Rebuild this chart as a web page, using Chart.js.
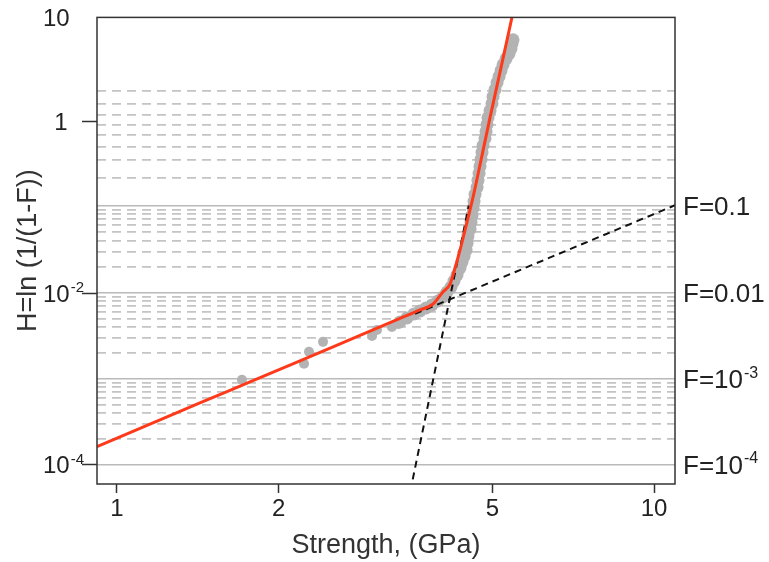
<!DOCTYPE html>
<html>
<head>
<meta charset="utf-8">
<script src="https://cdn.jsdelivr.net/npm/chart.js@4.4.1/dist/chart.umd.min.js"></script>
<style>
  html, body { margin: 0; padding: 0; background: #fff; }
  #wrap { width: 769px; height: 562px; }
</style>
</head>
<body>
<div id="wrap"><canvas id="chartWeibull" width="769" height="562"></canvas></div>
<script>
// ==================== DATA ====================
// axis ranges (strength in GPa, H = ln(1/(1-F)))
const X_MIN = 0.918, X_MAX = 10.94;
const Y_MIN = 5.92e-5, Y_MAX = 16.4;

const X_TICKS = [1, 2, 5, 10];
const Y_TICKS = [1e-4, 1e-2, 1, Y_MAX];
const Y_TICK_BASE = ['10', '10', '1', '10'];
const Y_TICK_EXP = ['-4', '-2', '', ''];

// failure probability levels drawn as horizontal lines
const F_MAJOR = [1e-4, 1e-3, 1e-2, 0.1];
const F_MAJOR_BASE = ['F=10', 'F=10', 'F=0.01', 'F=0.1'];
const F_MAJOR_EXP = ['-4', '-3', '', ''];
const F_MINOR = [
  2e-4, 3e-4, 4e-4, 5e-4, 6e-4, 7e-4, 8e-4, 9e-4,
  2e-3, 3e-3, 4e-3, 5e-3, 6e-3, 7e-3, 8e-3, 9e-3,
  0.02, 0.03, 0.04, 0.05, 0.06, 0.07, 0.08, 0.09,
  0.2, 0.3, 0.4, 0.5, 0.6, 0.7, 0.8, 0.9
];

// measured strengths (gray)
const dataStrength = [1.709, 2.230, 2.278, 2.419, 2.985, 3.049, 3.250, 3.340, 3.365, 3.468,
  3.573, 3.667, 3.762, 3.860, 3.961, 4.046, 4.117, 4.188, 4.242, 4.297,
  4.352, 4.390, 4.428, 4.466, 4.485, 4.502, 4.543, 4.563, 4.582, 4.602,
  4.622, 4.642, 4.682, 4.701, 4.722, 4.742, 4.763, 4.783, 4.804, 4.845,
  4.866, 4.887, 4.908, 4.950, 4.992, 5.014, 5.057, 5.101, 5.145, 5.189,
  5.234, 5.302, 5.370, 5.416, 5.439, 5.463];
const dataH = [9.74e-4, 1.494e-3, 2.061e-3, 2.693e-3, 3.162e-3, 3.713e-3, 4.024e-3, 4.360e-3, 4.600e-3, 5.122e-3,
  5.698e-3, 6.175e-3, 6.692e-3, 7.252e-3, 8.072e-3, 8.985e-3, 1.027e-2, 1.174e-2, 1.379e-2, 1.619e-2,
  1.953e-2, 2.294e-2, 2.693e-2, 3.162e-2, 3.814e-2, 4.600e-2, 5.548e-2, 6.692e-2, 8.072e-2, 9.737e-2,
  0.1174, 0.1416, 0.1709, 0.2061, 0.2486, 0.2998, 0.3616, 0.4361, 0.5260, 0.6344,
  0.7652, 0.9228, 1.113, 1.342, 1.619, 1.953, 2.355, 2.841, 3.337, 3.918,
  4.600, 5.402, 6.175, 7.063, 8.072, 8.985];

// bimodal fit (red)
const fitStrength = [0.918, 1.152, 1.427, 1.769, 2.192, 2.716, 3.365, 3.666, 3.877, 4.046,
  4.170, 4.260, 4.352, 4.447, 4.602, 4.783, 4.950, 5.189, 5.440];
const fitH = [1.62e-4, 2.96e-4, 5.22e-4, 9.20e-4, 1.62e-3, 2.86e-3, 5.05e-3, 6.34e-3, 7.45e-3, 1.03e-2,
  1.27e-2, 1.95e-2, 3.16e-2, 5.41e-2, 0.131, 0.403, 1.113, 4.25, 16.6];

// single-mode extensions (black dashed)
const lowStrength = [3.589, 10.94];
const lowH = [5.71e-3, 0.1055];
const highStrength = [3.554, 4.52];
const highH = [6.70e-5, 0.105];

// ==================== HELPERS ====================
const FONT = "'Liberation Sans', Arial, sans-serif";

function hazard(F) { return Math.log(1 / (1 - F)); }

function toPoints(xs, ys) {
  return xs.map((x, i) => ({ x: x, y: ys[i] }));
}

const gridLines = F_MAJOR.map(f => ({ value: hazard(f), major: true }))
  .concat(F_MINOR.map(f => ({ value: hazard(f), major: false })))
  .sort((a, b) => a.value - b.value);

// text with a raised exponent, e.g. 10^-2
function drawExpLabel(ctx, base, exp, x, y, size, align) {
  ctx.font = size + 'px ' + FONT;
  const wBase = ctx.measureText(base).width;
  const expSize = Math.round(size * 0.62);
  ctx.font = expSize + 'px ' + FONT;
  const wExp = exp ? ctx.measureText(exp).width + 1 : 0;
  let x0 = x;
  if (align === 'center') x0 = x - (wBase + wExp) / 2;
  const baseline = y + size * 0.36;
  ctx.textAlign = 'left';
  ctx.textBaseline = 'alphabetic';
  ctx.font = size + 'px ' + FONT;
  ctx.fillText(base, x0, baseline);
  if (exp) {
    ctx.font = expSize + 'px ' + FONT;
    ctx.fillText(exp, x0 + wBase + 1, baseline - size * 0.4);
  }
}

const tickLabelPlugin = {
  id: 'tickLabels',
  afterDraw(chart) {
    const ctx = chart.ctx;
    const yScale = chart.scales.y;
    const area = chart.chartArea;
    ctx.save();
    ctx.fillStyle = '#222';
    Y_TICKS.forEach((v, i) => {
      const y = yScale.getPixelForValue(v);
      if (Y_TICK_BASE[i] === '1') drawExpLabel(ctx, '1', '', 61, y, 24, 'center');
      else drawExpLabel(ctx, Y_TICK_BASE[i], Y_TICK_EXP[i], 43, y, 24, 'left');
    });
    F_MAJOR.forEach((f, i) => {
      const y = yScale.getPixelForValue(hazard(f));
      drawExpLabel(ctx, F_MAJOR_BASE[i], F_MAJOR_EXP[i], area.right + 8, y, 26, 'left');
    });
    ctx.restore();
  }
};

const framePlugin = {
  id: 'frame',
  afterDatasetsDraw(chart) {
    const { ctx, chartArea: a } = chart;
    ctx.save();
    ctx.strokeStyle = '#333';
    ctx.lineWidth = 1.5;
    ctx.strokeRect(a.left, a.top, a.right - a.left, a.bottom - a.top);
    ctx.restore();
  }
};

// ==================== CHART ====================
const canvas = document.getElementById('chartWeibull');
new Chart(canvas.getContext('2d'), {
  type: 'scatter',
  data: {
    datasets: [
      {
        label: 'fit',
        data: toPoints(fitStrength, fitH),
        showLine: true,
        borderColor: '#ff3a1a',
        borderWidth: 3,
        pointRadius: 0,
        cubicInterpolationMode: 'monotone'
      },
      {
        label: 'low mode',
        data: toPoints(lowStrength, lowH),
        showLine: true,
        borderColor: '#111',
        borderWidth: 2,
        borderDash: [7, 5],
        pointRadius: 0
      },
      {
        label: 'high mode',
        data: toPoints(highStrength, highH),
        showLine: true,
        borderColor: '#111',
        borderWidth: 2,
        borderDash: [7, 5],
        pointRadius: 0
      },
      {
        label: 'data',
        data: toPoints(dataStrength, dataH),
        showLine: false,
        pointRadius: function(ctx) { return ctx.dataIndex < 8 ? 5 : 6.5; },
        pointBorderWidth: 0,
        pointBackgroundColor: '#b3b3b3',
        pointBorderColor: '#b3b3b3'
      }
    ]
  },
  options: {
    responsive: false,
    animation: false,
    devicePixelRatio: 1,
    layout: { padding: { top: 16, left: 0, right: 0, bottom: 0 } },
    plugins: {
      legend: { display: false },
      tooltip: { enabled: false }
    },
    scales: {
      x: {
        type: 'logarithmic',
        position: 'bottom',
        min: X_MIN,
        max: X_MAX,
        afterBuildTicks: function(s) { s.ticks = X_TICKS.map(v => ({ value: v })); },
        afterFit: function(s) { s.height = 78; },
        ticks: {
          callback: function(v) { return String(v); },
          font: { family: FONT, size: 24 },
          color: '#222',
          padding: 2,
          maxRotation: 0,
          autoSkip: false
        },
        grid: { drawOnChartArea: false, drawTicks: true, tickLength: 9, tickColor: '#333', tickWidth: 1.5 },
        border: { display: false },
        title: {
          display: true,
          text: 'Strength, (GPa)',
          font: { family: FONT, size: 27 },
          color: '#333',
          padding: { top: 0, bottom: 0 }
        }
      },
      y: {
        type: 'logarithmic',
        position: 'left',
        min: Y_MIN,
        max: Y_MAX,
        afterBuildTicks: function(s) { s.ticks = Y_TICKS.map(v => ({ value: v })); },
        afterFit: function(s) { s.width = 97; },
        ticks: {
          // labels with exponents are drawn by tickLabelPlugin
          callback: function() { return ''; },
          font: { family: FONT, size: 24 },
          autoSkip: false
        },
        grid: {
          drawOnChartArea: false,
          drawTicks: true,
          tickLength: 15,
          tickWidth: 1.5,
          tickColor: function(ctx) { return ctx.index === Y_TICKS.length - 1 ? 'rgba(0,0,0,0)' : '#333'; }
        },
        border: { display: false },
        title: {
          display: true,
          text: 'H=ln (1/(1-F))',
          font: { family: FONT, size: 27 },
          color: '#333',
          padding: { top: 12, bottom: 0 }
        }
      },
      y2: {
        type: 'logarithmic',
        position: 'right',
        min: Y_MIN,
        max: Y_MAX,
        afterBuildTicks: function(s) { s.ticks = gridLines.map(g => ({ value: g.value })); },
        afterFit: function(s) { s.width = 94; },
        ticks: {
          callback: function() { return ''; },
          autoSkip: false
        },
        grid: {
          drawOnChartArea: true,
          drawTicks: false,
          color: function(ctx) {
            const g = gridLines[ctx.index];
            return g && g.major ? '#bababa' : '#c4c4c4';
          },
          lineWidth: function(ctx) {
            const g = gridLines[ctx.index];
            return g && g.major ? 1.4 : 1.7;
          }
        },
        border: {
          display: false,
          dash: function(ctx) {
            const g = ctx.tick ? gridLines[ctx.index] : null;
            return g && !g.major ? [9, 6] : [];
          }
        }
      }
    }
  },
  plugins: [framePlugin, tickLabelPlugin]
});
</script>
</body>
</html>
